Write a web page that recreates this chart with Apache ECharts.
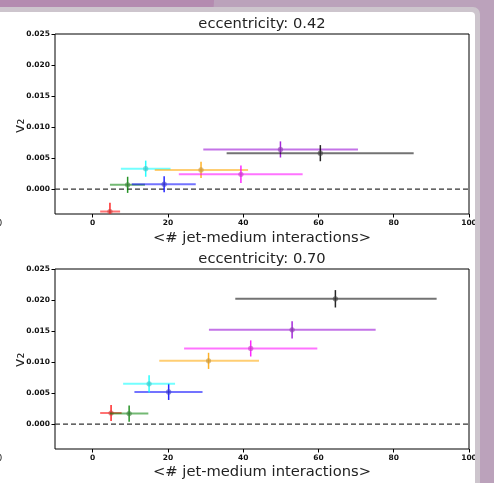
<!DOCTYPE html>
<html>
<head>
<meta charset="utf-8">
<script src="https://cdn.jsdelivr.net/npm/echarts@6/dist/echarts.min.js"></script>
<style>
  html, body { margin: 0; padding: 0; background: #b48bb0; }
  #chart { width: 494px; height: 483px; }
</style>
</head>
<body>
<div id="chart"></div>
<script>
// colours of the eight points, same order in both panels
var pointColors = ['#ff0000', '#008000', '#0000ff', '#00ffff', '#ffa500', '#ff00ff', '#9400d3', '#000000'];

// eccentricity 0.42
var xTop    = [4.6, 9.3, 19.0, 14.1, 28.8, 39.4, 49.9, 60.5];
var xTopLo  = [2.0, 4.6, 10.4, 7.5, 16.5, 22.9, 29.4, 35.6];
var xTopHi  = [7.3, 13.9, 27.4, 20.7, 41.3, 55.8, 70.5, 85.3];
var yTop    = [-0.0036, 0.0007, 0.0008, 0.0033, 0.0031, 0.0024, 0.0064, 0.0058];
var yTopErr = [0.0014, 0.0013, 0.0013, 0.0013, 0.0013, 0.0014, 0.0013, 0.0013];

// eccentricity 0.70
var xBot    = [4.9, 9.7, 20.2, 15.0, 30.8, 42.0, 53.0, 64.5];
var xBotLo  = [2.0, 4.6, 11.1, 8.1, 17.7, 24.3, 30.9, 37.9];
var xBotHi  = [7.7, 14.8, 29.2, 21.9, 44.2, 59.7, 75.2, 91.4];
var yBot    = [0.0018, 0.0017, 0.0052, 0.0065, 0.0102, 0.0122, 0.0152, 0.0202];
var yBotErr = [0.0013, 0.0013, 0.0013, 0.0014, 0.0013, 0.0013, 0.0014, 0.0014];

var xTicks = [0, 20, 40, 60, 80, 100];
var yTicks = [0, 0.005, 0.01, 0.015, 0.02, 0.025];
var titles = ['eccentricity: 0.42', 'eccentricity: 0.70'];
var xName = '<# jet-medium interactions>';
var yName = 'v\u2082';

var FONT = 'DejaVu Sans';

function errSeries(idx, xs, lo, hi, ys, err) {
    var data = xs.map(function (x, i) { return [x, ys[i], lo[i], hi[i], err[i], i]; });
    return {
        type: 'custom',
        xAxisIndex: idx,
        yAxisIndex: idx,
        clip: true,
        data: data,
        renderItem: function (params, api) {
            var x = api.value(0), y = api.value(1);
            var e = api.value(4);
            var c = pointColors[api.value(5)];
            var p = api.coord([x, y]);
            var l = api.coord([api.value(2), y]);
            var r = api.coord([api.value(3), y]);
            var t = api.coord([x, y + e]);
            var b = api.coord([x, y - e]);
            return {
                type: 'group',
                children: [
                    { type: 'line', shape: { x1: l[0], y1: l[1], x2: r[0], y2: r[1] },
                      style: { stroke: c, lineWidth: 2, opacity: 0.55 } },
                    { type: 'line', shape: { x1: t[0], y1: t[1], x2: b[0], y2: b[1] },
                      style: { stroke: c, lineWidth: 1.5, opacity: 0.85 } },
                    { type: 'circle', shape: { cx: p[0], cy: p[1], r: 2.6 },
                      style: { fill: c, opacity: 0.45 } },
                    { type: 'circle', shape: { cx: p[0], cy: p[1], r: 2.6 },
                      style: { fill: '#888', opacity: 0.3 } }
                ]
            };
        }
    };
}

function zeroLine(idx) {
    return {
        type: 'line',
        xAxisIndex: idx,
        yAxisIndex: idx,
        data: [[-10, 0], [100, 0]],
        symbol: 'none',
        silent: true,
        lineStyle: { color: '#333', width: 1.3, type: [5, 3] },
        z: 1
    };
}

function xAxis(idx) {
    return {
        type: 'value', gridIndex: idx, min: -10, max: 100,
        splitLine: { show: false },
        axisLine: { show: false, onZero: false },
        axisTick: { show: true, length: 3.5, lineStyle: { color: '#000' }, customValues: xTicks },
        axisLabel: { fontFamily: FONT, fontSize: 7.5, fontWeight: 'bold', color: '#111', margin: 5, customValues: xTicks }
    };
}

function yAxis(idx) {
    return {
        type: 'value', gridIndex: idx, min: -0.004, max: 0.025,
        splitLine: { show: false },
        axisLine: { show: false, onZero: false },
        axisTick: { show: true, length: 3.5, lineStyle: { color: '#000' }, customValues: yTicks },
        axisLabel: { fontFamily: FONT, fontSize: 7.5, fontWeight: 'bold', color: '#111', margin: 5, customValues: yTicks,
            formatter: function (v) { return v.toFixed(3); } }
    };
}

function label(x, y, text, rot) {
    return {
        type: 'text', x: x, y: y, rotation: rot || 0, z: 50,
        style: { text: text, fontFamily: FONT, fontSize: 14.7, fill: '#222',
                 align: 'center', verticalAlign: 'middle' }
    };
}

var chart = echarts.init(document.getElementById('chart'), null, { renderer: 'canvas' });

chart.setOption({
    animation: false,
    backgroundColor: '#b48bb0',
    grid: [
        { left: 55, top: 34, width: 414, height: 180, show: true, borderColor: '#000', borderWidth: 1, backgroundColor: 'transparent' },
        { left: 55, top: 269, width: 414, height: 180, show: true, borderColor: '#000', borderWidth: 1, backgroundColor: 'transparent' }
    ],
    xAxis: [xAxis(0), xAxis(1)],
    yAxis: [yAxis(0), yAxis(1)],
    series: [
        zeroLine(0),
        errSeries(0, xTop, xTopLo, xTopHi, yTop, yTopErr),
        zeroLine(1),
        errSeries(1, xBot, xBotLo, xBotHi, yBot, yBotErr)
    ],
    graphic: [
        // page behind the card
        { type: 'polygon', z: -20, shape: { points: [[214, 0], [494, 0], [494, 483], [190, 483]] },
          style: { fill: '#bba2bb' } },
        { type: 'rect', z: -15, shape: { x: -10, y: 7, width: 490, height: 490, r: 7 },
          style: { fill: '#cdc5cd' } },
        { type: 'rect', z: -14, shape: { x: -10, y: 12, width: 485, height: 485, r: 4 },
          style: { fill: '#ffffff' } },
        // right edge of the card clips the last tick label
        { type: 'rect', z: 100, shape: { x: 475, y: 14, width: 5, height: 470 },
          style: { fill: '#cdc5cd' } },
        { type: 'rect', z: 100, shape: { x: 480, y: 14, width: 14, height: 470 },
          style: { fill: '#bba2bb' } },
        label(262, 24, titles[0]),
        label(262, 259, titles[1]),
        label(262, 238, xName),
        label(262, 472, xName),
        label(20, 126, yName, Math.PI / 2),
        label(20, 360, yName, Math.PI / 2),
        { type: 'text', x: -3, y: 224, z: 50,
          style: { text: '0', fontFamily: FONT, fontSize: 8, fill: '#000', verticalAlign: 'middle' } },
        { type: 'text', x: -3, y: 459, z: 50,
          style: { text: '0', fontFamily: FONT, fontSize: 8, fill: '#000', verticalAlign: 'middle' } }
    ]
});
</script>
</body>
</html>
